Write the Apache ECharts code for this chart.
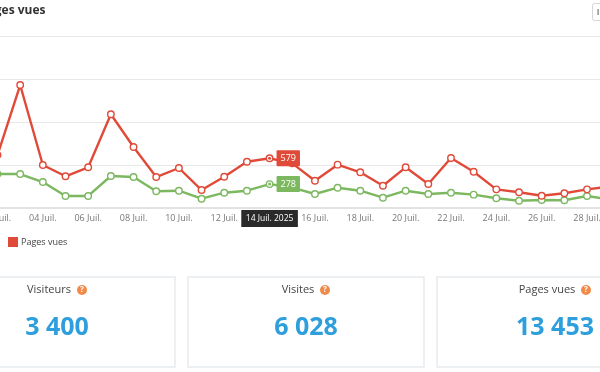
<!DOCTYPE html>
<html><head><meta charset="utf-8">
<style>html,body{margin:0;padding:0;background:#fff;overflow:hidden}#c{width:600px;height:372px}</style>
<script src="https://cdn.jsdelivr.net/npm/echarts@6/dist/echarts.min.js"></script>
</head><body><div id="c"></div>
<script>
const days = ['02','03','04','05','06','07','08','09','10','11','12','13','14','15','16','17','18','19','20','21','22','23','24','25','26','27','28','29'];
const pageViews = [616,1430,500,369,473,1090,709,360,465,209,364,538,579,519,317,504,415,259,473,279,581,422,217,183,143,171,217,250];
const visits = [395,395,302,140,140,372,360,194,201,108,178,201,278,238,163,236,201,120,201,163,178,155,113,85,93,90,140,99];
const yTicks = {min:0,max:2000,interval:500};
const highlightDay = '14';
const highlightLabel = '14 Juil. 2025';
const cardTitles = ['Visiteurs','Visites','Pages vues'];
const cardValues = ['3 400','6 028','13 453'];
const cardBoxes = [[-61,236],[188,236],[437,236]];
const FONT = '"Open Sans"';
const RED='#e04a39', GREEN='#7cb860';
const cats = days.map(d=>d+' Juil.');
const hi = days.indexOf(highlightDay);

function seriesOf(name,vals,color){
  return {
    name,type:'line',data:vals.map((v,i)=> i!==hi ? v : {
      value:v,
      label:{show:true,position:'right',distance:3,formatter:'{c}',color:'#fff',fontFamily:FONT,fontSize:9,
        backgroundColor:color,padding:[4,4,3,4],borderRadius:1}
    }),
    symbol:'circle',symbolSize:6.5,showSymbol:true,animation:false,
    lineStyle:{color,width:2.4},
    itemStyle:{color:'#fff',borderColor:color,borderWidth:1.4},
    markPoint:{animation:false,silent:true,data:[{coord:[cats[hi],vals[hi]],symbol:'circle',symbolSize:3,itemStyle:{color},label:{show:false}}]},
    z:name==='Pages vues'?3:2
  };
}

const graphic=[];
// top right button
graphic.push({type:'rect',shape:{x:592.5,y:3.5,width:20,height:17,r:2},style:{fill:'#fff',stroke:'#d5d5d5',lineWidth:1}});
graphic.push({type:'rect',shape:{x:597.5,y:9,width:1.2,height:6},style:{fill:'#777'}});
cardBoxes.forEach((b,i)=>{
  const cx=b[0]+b[1]/2;
  graphic.push({type:'rect',z:-1,shape:{x:b[0],y:277,width:b[1],height:90},style:{fill:'#fff',stroke:'#e8ebee',lineWidth:1.5}});
  graphic.push({type:'text',x:cx-8,y:290,style:{text:cardTitles[i],fontFamily:FONT,fontSize:11,fill:'#444',align:'center',verticalAlign:'middle'}});
  const offs=[25,19,31][i];
  graphic.push({type:'circle',shape:{cx:cx+offs,cy:290,r:5},style:{fill:'#ef8a4a'}});
  graphic.push({type:'text',x:cx+offs,y:290,style:{text:'?',fontFamily:FONT,fontSize:8,fontWeight:'bold',fill:'#fff',align:'center',verticalAlign:'middle'}});
  graphic.push({type:'text',x:cx,y:328,style:{text:cardValues[i],fontFamily:FONT,fontSize:25,fontWeight:'bold',fill:'#2e9fdc',align:'center',verticalAlign:'middle'}});
});

const chart=echarts.init(document.getElementById('c'),null,{renderer:'canvas'});
chart.setOption({
  animation:false,
  backgroundColor:'#fff',
  title:{text:'Pages vues',left:-20,top:5,padding:0,textStyle:{fontFamily:FONT,fontSize:12,fontWeight:'bold',color:'#333'}},
  legend:{data:[{name:'Pages vues',itemStyle:{color:RED,borderWidth:0}}],left:8,top:237,padding:0,icon:'rect',itemWidth:10,itemHeight:10,itemGap:3,
    textStyle:{fontFamily:FONT,fontSize:9,color:'#444',padding:[0,0,0,-2]}},
  grid:{left:-2.5,right:-9.7,top:36,height:172,containLabel:false,outerBoundsMode:'none'},
  xAxis:{type:'category',boundaryGap:false,data:cats,
    axisLine:{lineStyle:{color:'#e2e2e2',width:2}},axisTick:{show:false},splitLine:{show:false},
    axisLabel:{interval:1,showMinLabel:true,margin:6,fontFamily:FONT,fontSize:9,color:'#777',hideOverlap:false,
      formatter:(v)=> v===cats[hi] ? '{hl|'+highlightLabel+'}' : v,
      rich:{hl:{backgroundColor:'#2a2a2a',color:'#fff',fontFamily:FONT,fontSize:8.5,padding:[4,4.5,4,4.5],height:9,lineHeight:9}}}},
  yAxis:{type:'value',min:yTicks.min,max:yTicks.max,interval:yTicks.interval,
    axisLine:{show:false},axisTick:{show:false},axisLabel:{show:false},
    splitLine:{lineStyle:{color:'#e8e8e8',width:1}}},
  series:[seriesOf('Visites',visits,GREEN),seriesOf('Pages vues',pageViews,RED)],
  graphic:{elements:graphic}
});
</script></body></html>
